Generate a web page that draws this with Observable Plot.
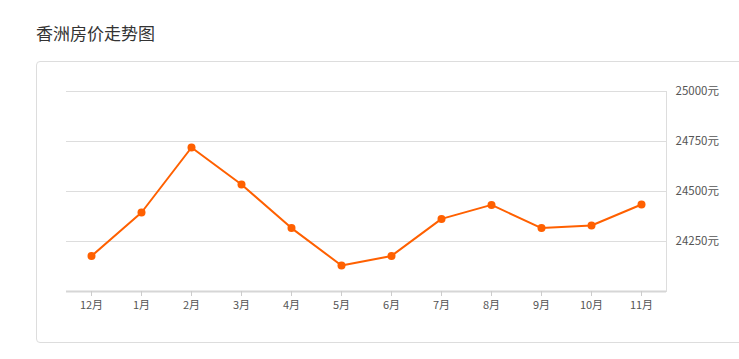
<!DOCTYPE html>
<html>
<head>
<meta charset="utf-8">
<script src="https://cdn.jsdelivr.net/npm/d3@7"></script>
<script src="https://cdn.jsdelivr.net/npm/@observablehq/plot@0.6"></script>
<style>
  html, body { margin: 0; padding: 0; background: #fff; width: 739px; height: 359px; overflow: hidden; }
  #title { position: absolute; left: 36px; top: 21px; font: 17px "Noto Sans CJK SC", sans-serif; color: #333; line-height: 24px; }
  #card { position: absolute; left: 36px; top: 61px; width: 760px; height: 282px; border: 1px solid #ddd; border-radius: 4px; box-sizing: border-box; }
  #chart { position: absolute; left: 0; top: 0; }
</style>
</head>
<body>
<div id="title">香洲房价走势图</div>
<div id="card"></div>
<div id="chart"></div>
<script>
const months = ["12月","1月","2月","3月","4月","5月","6月","7月","8月","9月","10月","11月"];
const prices = [24177, 24395, 24720, 24535, 24317, 24130, 24178, 24363, 24433, 24317, 24330, 24435];
const yTicks = [24250, 24500, 24750, 25000];
const yMin = 24000, yMax = 25000;

const data = months.map((m, i) => ({month: m, price: prices[i]}));

const chart = Plot.plot({
  width: 739,
  height: 359,
  marginLeft: 66,
  marginRight: 73,
  marginTop: 91,
  marginBottom: 68,
  style: {fontFamily: "'Noto Sans CJK SC', sans-serif", fontSize: "11px", color: "#555", background: "transparent"},
  x: {type: "band", domain: months, padding: 0, label: null},
  y: {domain: [yMin, yMax], label: null},
  marks: [
    Plot.ruleY(yTicks, {stroke: "#ddd", strokeWidth: 1}),
    Plot.ruleY([yMin], {stroke: "#d6d6d6", strokeWidth: 2}),
    Plot.frame({anchor: "right", stroke: "#ddd"}),
    Plot.axisY(yTicks, {anchor: "right", tickSize: 0, tickPadding: 9, tickFormat: d => d + "元", fill: "#555", fontSize: 11.5}),
    Plot.axisX({anchor: "bottom", tickSize: 5, tickPadding: 5, stroke: "#ccc", fill: "#555", fontSize: 11}),
    Plot.line(data, {x: "month", y: "price", stroke: "#ff6000", strokeWidth: 2}),
    Plot.dot(data, {x: "month", y: "price", r: 4, fill: "#ff6000", stroke: "none"})
  ]
});
document.getElementById("chart").appendChild(chart);
</script>
</body>
</html>
